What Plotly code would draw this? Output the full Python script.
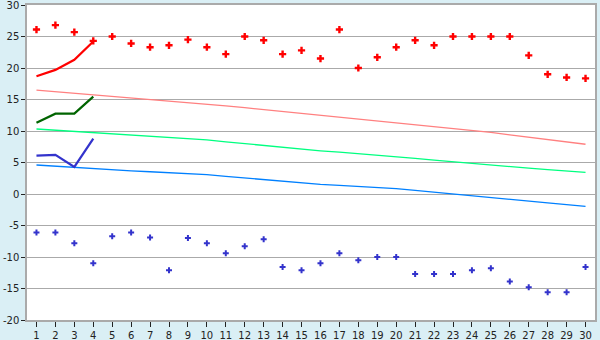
import plotly.graph_objects as go

days = list(range(1, 31))

max_points = [26.1, 26.8, 25.7, 24.3, 25.0, 23.9, 23.3, 23.6, 24.5, 23.3,
              22.2, 25.0, 24.4, 22.2, 22.8, 21.5, 26.1, 20.0, 21.7, 23.3,
              24.4, 23.6, 25.0, 25.0, 25.0, 25.0, 22.0, 19.0, 18.5, 18.35]
min_points = [-6.1, -6.1, -7.8, -11.0, -6.7, -6.1, -6.9, -12.1, -7.0, -7.8,
              -9.4, -8.3, -7.2, -11.6, -12.1, -11.0, -9.4, -10.5, -10.0, -10.0,
              -12.7, -12.7, -12.7, -12.1, -11.8, -13.9, -14.8, -15.6, -15.6, -11.6]

cur_days = [1, 2, 3, 4]
cur_max = [18.7, 19.7, 21.3, 24.2]
cur_mean = [11.3, 12.75, 12.75, 15.45]
cur_min = [6.1, 6.2, 4.3, 8.8]

norm_max = [16.5, 16.26, 16.01, 15.77, 15.53, 15.29, 15.05, 14.81, 14.57, 14.30,
            14.0, 13.70, 13.40, 13.10, 12.80, 12.52, 12.24, 11.95, 11.67, 11.37,
            11.06, 10.74, 10.42, 10.10, 9.78, 9.40, 9.03, 8.65, 8.28, 7.90]
norm_mean = [10.32, 10.12, 9.92, 9.71, 9.52, 9.34, 9.16, 8.98, 8.80, 8.58,
             8.28, 7.98, 7.68, 7.38, 7.08, 6.86, 6.64, 6.41, 6.19, 5.95,
             5.66, 5.38, 5.10, 4.82, 4.54, 4.32, 4.10, 3.88, 3.66, 3.44]
norm_min = [4.60, 4.40, 4.20, 4.00, 3.83, 3.68, 3.53, 3.38, 3.23, 3.06,
            2.79, 2.52, 2.25, 1.98, 1.70, 1.54, 1.38, 1.22, 1.06, 0.86,
            0.56, 0.26, -0.04, -0.34, -0.63, -0.89, -1.16, -1.42, -1.69, -1.95]

y_ticks = [-20, -15, -10, -5, 0, 5, 10, 15, 20, 25, 30]

fig = go.Figure()
fig.add_trace(go.Scatter(x=days, y=norm_max, mode="lines", line=dict(color="#FF8080", width=1.3)))
fig.add_trace(go.Scatter(x=days, y=norm_mean, mode="lines", line=dict(color="#00FF80", width=1.3)))
fig.add_trace(go.Scatter(x=days, y=norm_min, mode="lines", line=dict(color="#0080FF", width=1.3)))
fig.add_trace(go.Scatter(x=cur_days, y=cur_max, mode="lines", line=dict(color="#FF0000", width=2.2)))
fig.add_trace(go.Scatter(x=cur_days, y=cur_mean, mode="lines", line=dict(color="#006400", width=2.2)))
fig.add_trace(go.Scatter(x=cur_days, y=cur_min, mode="lines", line=dict(color="#3333CC", width=2.2)))
fig.add_trace(go.Scatter(x=days, y=max_points, mode="markers",
                         marker=dict(symbol="cross", size=6, color="#FF0000", line=dict(width=0))))
fig.add_trace(go.Scatter(x=days, y=min_points, mode="markers",
                         marker=dict(symbol="cross", size=5, color="#3333CC", line=dict(width=0))))

fig.update_layout(
    width=600, height=340,
    margin=dict(l=27, r=5, t=5, b=20),
    paper_bgcolor="#DAEFF5",
    plot_bgcolor="#FFFFFF",
    showlegend=False,
    font=dict(family="DejaVu Sans", size=10, color="#222222"),
)
fig.update_xaxes(
    range=[0.5, 30.5], tickmode="array", tickvals=days, ticktext=[str(d) for d in days],
    showgrid=False, zeroline=False, showline=True, linecolor="#AAAAAA", linewidth=1.5,
    mirror=True, ticks="outside", ticklen=5, tickcolor="#222222", tickwidth=1,
    automargin=False, ticklabeloverflow="allow",
)
fig.update_yaxes(
    range=[-20, 30], tickmode="array", tickvals=y_ticks, ticktext=[str(v) for v in y_ticks],
    showgrid=True, gridcolor="#AAAAAA", gridwidth=1, zeroline=False,
    showline=True, linecolor="#AAAAAA", linewidth=1.5, mirror=True,
    ticks="outside", ticklen=4, tickcolor="#222222", tickwidth=1,
    automargin=False, ticklabeloverflow="allow",
)

fig.write_html("out.html")
